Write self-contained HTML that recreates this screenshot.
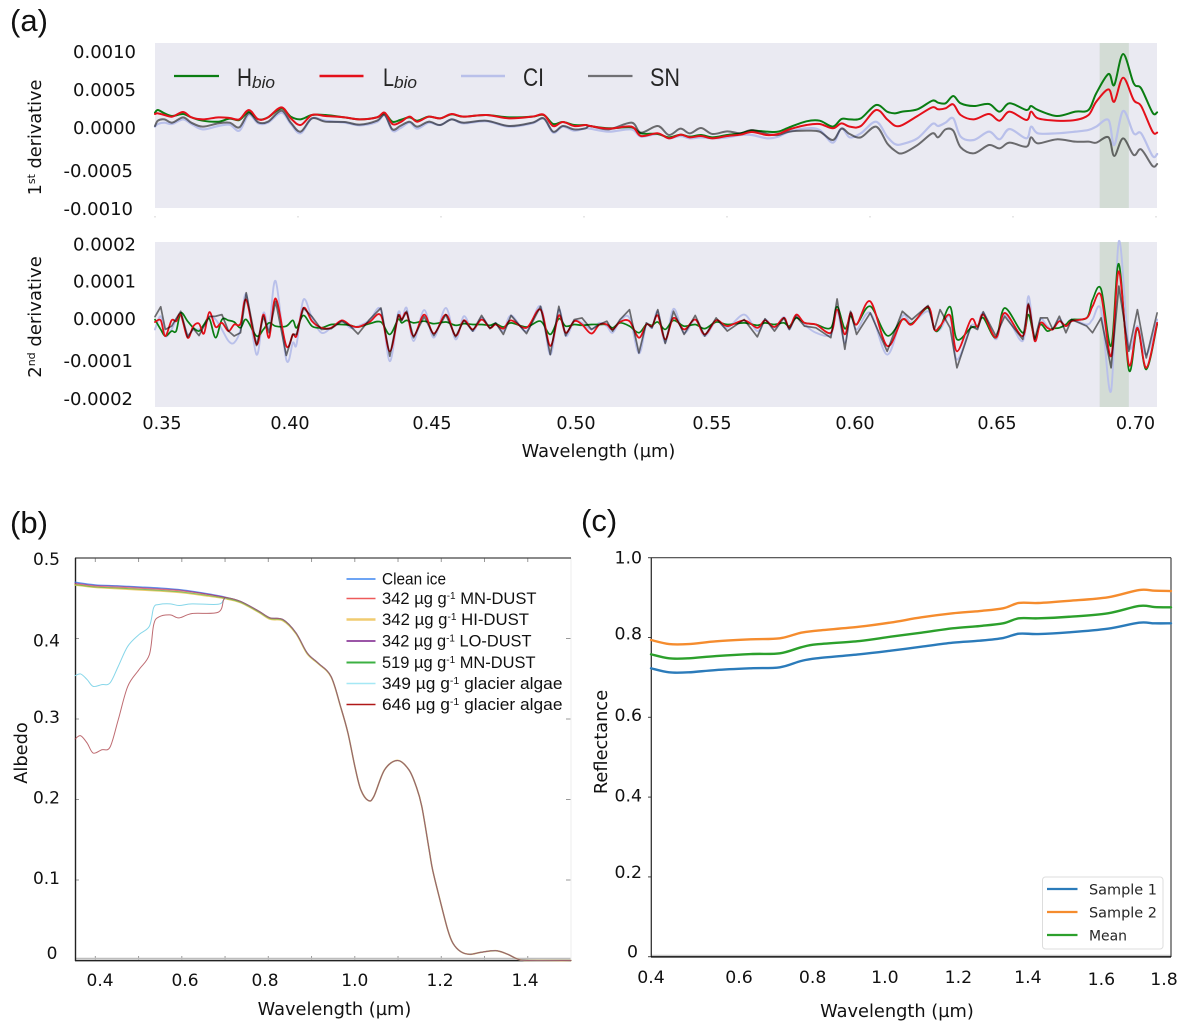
<!DOCTYPE html>
<html lang="en">
<head>
<meta charset="utf-8">
<title>Spectral derivative, albedo and reflectance panels</title>
<style>
html,body{margin:0;padding:0;background:#fff;}
svg{display:block;}
text{font-family:"DejaVu Sans","Liberation Sans",sans-serif;fill:#111;}
.lib{font-family:"Liberation Sans",sans-serif;}
.lbl{font-size:17.8px;}
.panel{font-family:"Liberation Sans",sans-serif;font-size:31px;}
.leg-a{font-family:"Liberation Sans",sans-serif;font-size:25px;fill:#262626;}
.leg-a-sub{font-family:"Liberation Sans",sans-serif;font-size:17px;font-style:italic;fill:#262626;}
.leg-b{font-family:"Liberation Sans",sans-serif;font-size:16.5px;}
.leg-c{font-size:14px;fill:#262626;}
</style>
</head>
<body>
<svg id="chart" xmlns="http://www.w3.org/2000/svg" width="1188" height="1031" viewBox="0 0 1188 1031">
  <rect width="1188" height="1031" fill="#ffffff"/>

  <text class="panel" x="10" y="31">(a)</text>
  <text class="panel" x="10" y="533">(b)</text>
  <text class="panel" x="581" y="531">(c)</text>

  <g id="panel-a1">
    <rect x="155" y="43" width="1002" height="165" fill="#eaeaf2"/>
  </g>
  <g id="panel-a2">
    <rect x="155" y="242" width="1002" height="165" fill="#eaeaf2"/>
  </g>
  <g id="panel-b"></g>
  <g id="panel-c"></g>

  <text class="lbl" transform="translate(41,137.5) rotate(-90)" text-anchor="middle" style="font-size:17.7px">1<tspan dy="-6" style="font-size:11px">st</tspan><tspan dy="6"> derivative</tspan></text>
  <text class="lbl" transform="translate(41,317) rotate(-90)" text-anchor="middle" style="font-size:18px">2<tspan dy="-6" style="font-size:11px">nd</tspan><tspan dy="6"> derivative</tspan></text>
  <text class="lbl" x="598.5" y="457" text-anchor="middle">Wavelength (µm)</text>
  <text class="lbl" x="334.5" y="1015" text-anchor="middle">Wavelength (µm)</text>
  <text class="lbl" transform="translate(27,753) rotate(-90)" text-anchor="middle">Albedo</text>
  <text class="lbl" x="897" y="1017" text-anchor="middle">Wavelength (µm)</text>
  <text class="lbl" transform="translate(607,742) rotate(-90)" text-anchor="middle">Reflectance</text>

  <g>
    <line x1="174" x2="219" y1="76" y2="76" stroke="#0a7d12" stroke-width="2.2"/>
    <text class="leg-a" x="237" y="86" textLength="15" lengthAdjust="spacingAndGlyphs">H</text>
    <text class="leg-a-sub" x="252" y="88" textLength="23" lengthAdjust="spacingAndGlyphs">bio</text>
    <line x1="319.5" x2="363.5" y1="76" y2="76" stroke="#e4101a" stroke-width="2.4"/>
    <text class="leg-a" x="383" y="86" textLength="11" lengthAdjust="spacingAndGlyphs">L</text>
    <text class="leg-a-sub" x="394" y="88" textLength="23" lengthAdjust="spacingAndGlyphs">bio</text>
    <line x1="461" x2="505" y1="76" y2="76" stroke="#b9c0ea" stroke-width="2.4"/>
    <text class="leg-a" x="523" y="86" textLength="21" lengthAdjust="spacingAndGlyphs">CI</text>
    <line x1="588" x2="632.5" y1="76" y2="76" stroke="#707074" stroke-width="2.2"/>
    <text class="leg-a" x="650" y="86" textLength="30" lengthAdjust="spacingAndGlyphs">SN</text>
  </g>

  <g>
    <line x1="346.5" x2="375.5" y1="579" y2="579" stroke="#3d85f0" stroke-width="1.6"/>
    <text class="leg-b" x="382" y="584.5" textLength="64" lengthAdjust="spacingAndGlyphs">Clean ice</text>
    <line x1="346.5" x2="375.5" y1="598.5" y2="598.5" stroke="#ee5a5a" stroke-width="1.6"/>
    <text class="leg-b" x="382" y="604" textLength="154.5" lengthAdjust="spacingAndGlyphs">342 µg g<tspan dy="-5" style="font-size:10px">-1</tspan><tspan dy="5"> MN-DUST</tspan></text>
    <line x1="346.5" x2="375.5" y1="619.5" y2="619.5" stroke="#f0cc70" stroke-width="2.6"/>
    <text class="leg-b" x="382" y="625" textLength="147" lengthAdjust="spacingAndGlyphs">342 µg g<tspan dy="-5" style="font-size:10px">-1</tspan><tspan dy="5"> HI-DUST</tspan></text>
    <line x1="346.5" x2="375.5" y1="641" y2="641" stroke="#7a1f8a" stroke-width="1.6"/>
    <text class="leg-b" x="382" y="646.5" textLength="149.5" lengthAdjust="spacingAndGlyphs">342 µg g<tspan dy="-5" style="font-size:10px">-1</tspan><tspan dy="5"> LO-DUST</tspan></text>
    <line x1="346.5" x2="375.5" y1="662.5" y2="662.5" stroke="#3cb043" stroke-width="2"/>
    <text class="leg-b" x="382" y="668" textLength="153.5" lengthAdjust="spacingAndGlyphs">519 µg g<tspan dy="-5" style="font-size:10px">-1</tspan><tspan dy="5"> MN-DUST</tspan></text>
    <line x1="346.5" x2="375.5" y1="683.5" y2="683.5" stroke="#a5e8f5" stroke-width="1.6"/>
    <text class="leg-b" x="382" y="689" textLength="180.5" lengthAdjust="spacingAndGlyphs">349 µg g<tspan dy="-5" style="font-size:10px">-1</tspan><tspan dy="5"> glacier algae</tspan></text>
    <line x1="346.5" x2="375.5" y1="704.5" y2="704.5" stroke="#b01818" stroke-width="1.6"/>
    <text class="leg-b" x="382" y="710" textLength="180.5" lengthAdjust="spacingAndGlyphs">646 µg g<tspan dy="-5" style="font-size:10px">-1</tspan><tspan dy="5"> glacier algae</tspan></text>
  </g>

  <g id="legend-c"></g>
</svg>

<script>
// Panel (a), first derivative, values in units of 1e-4
const wavelengthsFirstDerivative = [350,351,353.3,356,359.8,362.7,366.7,372.1,376.1,379.5,382.8,386.1,389.5,394.2,397.5,400.9,404.9,409.6,416.3,421.6,427.6,430.3,433,435.7,439,441.7,445.7,449.7,453.7,457.8,465.8,473.8,481.9,485.9,489.2,492.6,496.6,500.6,
502.1,508.7,516.6,519.9,525.8,529.7,533.7,537,540.9,544.9,550.1,554.7,558.7,564,567.9,571.8,577.8,582.4,587,590,592.9,596.8,602.1,606,608.7,611.3,616.6,621.8,623.8,626.4,629.1,631.7,636.3,641.6,645.3,648.8,654.7,656.3,658.7,665.3,671.8,676.4,679.1,683.4,685.4,688.5,692.2,694.8,698.8,700.4];
const firstHbio = [2.02,2.37,1.93,1.58,1.84,1.40,.96,.83,1.23,1.05,2.11,1.14,1.40,2.59,1.49,1.14,1.71,1.71,1.40,1.14,1.40,1.93,.83,1.05,1.40,.96,1.49,1.27,1.80,1.49,1.71,1.40,1.49,1.71,.53,.79,.39,.39,
.26,-.04,.09,-.70,-.79,-1.23,-.88,-1.14,-.92,-1.23,-.92,-.70,-.35,-.48,-.48,.09,.88,.96,.18,1.18,1.14,1.27,3.03,2.15,1.93,2.15,2.46,3.60,3.33,3.25,4.21,3.25,2.89,3.16,2.15,3.25,2.37,2.89,2.37,1.58,2.15,2.37,4.56,7.11,5.66,9.74,5.88,5.22,2.02,2.06];
const firstLbio = [1.84,1.93,1.71,1.49,2.11,1.40,1.14,1.40,1.32,1.14,2.37,1.14,1.40,2.72,1.27,.39,1.71,1.58,1.40,1.14,1.40,2.02,.53,.75,1.49,.83,1.49,1.27,1.84,1.49,1.71,1.27,1.49,1.75,.26,.79,.26,.39,
.26,-.09,.18,-1.05,-.70,-1.36,-.88,-1.23,-1.05,-1.36,-1.05,-.88,-.53,-.92,-.79,-.18,.39,.53,-.04,.61,.18,.26,2.37,1.14,.31,.39,1.58,2.72,2.46,2.59,3.11,1.71,1.14,1.84,.96,2.15,1.05,2.15,1.27,.96,1.05,1.71,3.46,5.09,3.46,6.62,3.68,2.89,-.48,-.61];
const firstCI = [.18,.53,.70,.53,1.14,.53,-.18,.26,.44,-.35,1.71,.61,.70,2.02,.53,-.70,1.27,.96,.70,.35,.79,1.71,-.35,-.04,.70,-.09,.70,.39,1.14,.61,.88,.18,.61,1.23,-.61,.18,-.35,-.04,
-.09,-.48,-.18,-1.14,-.79,-1.36,-1.05,-1.36,-1.23,-1.36,-1.23,-.92,-.92,-1.36,-1.14,-.48,-.04,-.26,-1.93,-.04,-1.23,-.70,.83,-1.14,-2.11,-2.11,-1.36,.53,.26,.70,1.27,-1.14,-1.58,-.48,-1.49,-.13,-1.36,.18,-.70,-.70,-.48,-.26,.18,1.05,-2.24,2.24,-.70,-.70,-3.68,-3.42];
const firstSN = [.26,.96,1.14,.70,1.40,.70,.18,.61,.70,.09,1.93,.75,.83,2.28,.70,-.48,1.27,.83,.79,.44,.96,1.71,-.18,.26,.83,.18,.83,.39,1.14,.70,.96,.26,.70,1.27,-.48,.26,-.18,-.04,
.26,-.18,.70,-.61,.26,-.92,-.09,-.70,0,-.79,-.44,-.70,-.26,-.79,-.92,-.48,-.35,-.48,-1.58,-.09,-.79,-1.23,.18,-2.02,-2.98,-3.33,-2.24,-.70,-1.23,-.18,-.35,-2.54,-3.33,-2.24,-2.68,-1.93,-2.46,-1.23,-2.02,-1.49,-1.80,-1.80,-1.93,-1.23,-3.68,-1.36,-3.55,-2.81,-5.00,-4.74];
const firstYTicks = [10,5,0,-5,-10];
const firstYLabels = ['0.0010','0.0005','0.0000','-0.0005','-0.0010'];

// Panel (a), second derivative, values in units of 1e-4
const wavelengthsSecondDerivative = [350,352,353.6,355.8,357.4,359,361.4,363.4,365.4,367.1,369,371.2,373.4,375.7,377.7,379.9,381.9,385.5,387.9,389.9,392.2,395.9,398.2,399.5,401.9,404.9,408.2,411.6,415.3,418.3,421,425,429,432.1,435,436.3,438,440.4,444.1,447.5,451.7,455.1,458,461.1,464.2,467.1,469.1,471.8,474.5,479.9,484.8,488.2,491.2,493.6,496.6,499.3,502.6,
505.4,508,510,512.6,515.9,519.2,521.8,523.8,525.8,528.4,531.3,535,538.9,542.2,546.2,550.1,556,560.6,563.3,566.6,569.9,571.8,574.2,577.1,581.1,586.3,588.5,591.2,593.2,595.3,600.1,606,611.3,614.6,620.3,622.5,624.5,628,630.4,635.3,637.6,639.6,644,647.1,653.4,655.4,657.6,659.6,662,663.9,666.2,668.5,670.5,675.8,677.8,680.8,684.3,687,690.5,693.5,696.6,700.4];
const secondHbio = [.12,-.12,-.28,-.16,-.16,.28,.08,-.08,-.16,0,.14,-.32,.12,.10,.06,-.08,.12,-.28,-.12,.04,-.04,-.04,.10,-.08,.22,-.04,-.08,0,0,-.02,-.06,.02,.06,-.24,.12,.04,.10,.04,.08,.02,.06,-.02,.02,0,0,-.02,.02,-.06,.04,-.06,.08,-.24,.14,-.04,0,-.02,0,
0,0,-.08,.04,-.04,-.20,0,-.02,.06,-.12,.10,-.04,0,-.10,.06,0,.04,-.02,.04,0,.04,-.04,.16,.04,0,-.08,.43,-.10,.20,0,.44,-.27,.12,.02,.40,-.12,-.08,.43,-.36,-.08,-.04,.16,-.32,.40,-.20,.24,-.32,0,-.16,-.10,-.08,0,.12,.16,.60,.86,-.52,1.47,-1.10,-.12,-1.09,0];
const secondLbio = [.06,.10,-.28,.10,.08,.24,-.32,-.04,.02,-.22,.30,-.06,.04,-.16,0,.02,.60,-.48,.24,-.32,.63,-.52,-.24,-.27,.40,.08,-.08,-.08,.10,-.02,-.06,.06,.22,-.65,.19,.12,.28,-.28,.24,-.22,.24,-.27,.10,-.12,.12,-.08,0,-.10,.10,-.08,.36,-.52,.22,-.20,.08,0,-.22,
0,0,-.12,.06,.08,-.32,0,-.04,.22,-.36,.16,-.12,.12,-.24,.10,-.04,.10,-.08,.10,-.06,.16,-.08,.24,.04,0,-.20,.36,-.24,.28,0,.56,-.52,.12,0,.43,-.12,-.04,.22,-.65,.12,-.06,.24,-.32,.28,-.28,.48,-.40,.04,-.08,-.12,.08,-.04,.08,.16,.44,.70,-.77,1.29,-.97,-.08,-1.05,.04];
const secondCI = [-.12,.20,-.28,-.12,.12,.20,-.24,-.12,-.12,-.04,.20,.12,-.12,-.40,-.44,-.12,.73,-.73,.28,-.08,1.05,-.85,-.44,-.48,.60,.16,-.20,-.08,.08,-.08,-.04,.10,.36,-.89,.28,.10,.40,-.40,.35,-.32,.40,-.36,.20,-.16,.16,-.08,.04,-.16,.22,-.16,.44,-.73,.36,-.28,.08,.04,-.12,
.04,-.04,-.20,.08,.16,-.70,0,-.08,.32,-.44,.38,-.20,.12,-.28,.08,-.08,.24,-.16,.12,-.08,.18,-.12,.22,0,-.20,-.24,.32,-.44,.28,-.12,.28,-.73,.20,.04,.32,-.12,-.12,.18,-.85,-.04,-.08,.28,-.36,.24,-.40,.69,-.40,.12,-.04,-.12,.12,-.04,.12,0,.12,.35,-1.61,2.02,-.52,-.04,-.73,.12];
const secondSN = [.19,.43,-.12,-.04,.14,.32,-.30,-.10,-.27,-.04,.19,.20,.24,-.16,-.28,-.20,.77,-.51,.20,-.20,.56,-.75,-.24,-.24,.40,.19,-.12,-.10,.08,-.04,-.23,.12,.40,-.77,.24,.10,.32,-.32,.19,-.27,.24,-.30,.10,-.16,.22,-.10,.04,-.24,.22,-.22,.44,-.73,.44,-.27,.12,.16,-.12,
0,.08,-.16,.12,.36,-.69,.04,-.08,.36,-.46,.32,-.24,.22,-.28,.16,-.16,.12,-.30,.14,-.16,.16,-.12,.20,-.04,-.08,-.32,.62,-.60,.32,-.24,.28,-.65,.32,.12,.46,-.12,.36,-.08,-1.05,-.04,-.12,.31,-.28,.20,-.36,.51,-.36,.16,.16,-.12,.20,-.20,.12,-.04,-.20,.16,-1.05,.93,-.65,.36,-.81,.28];
const secondYTicks = [2,1,0,-1,-2];
const secondYLabels = ['0.0002','0.0001','0.0000','-0.0001','-0.0002'];
const panelAXTicks = [350,400,450,500,550,600,650,700];
const panelAXLabels = ['0.35','0.40','0.45','0.50','0.55','0.60','0.65','0.70'];
const redEdgeBand = [680.3,690.5];

// Panel (b), albedo
const albedoWave = [.353,.4,.45,.5,.55,.6,.65,.7,.736,.778,.804,.834,.864,.89,.915,.945,.967,.984,1.001,1.014,1.031,1.044,1.069,1.099,1.125,1.142,1.155,1.172,1.18,1.197,1.215,1.227,1.245,1.266,1.292,1.326,1.352,1.378,1.4,1.5];
const albedoClean = [.470,.4667,.4655,.4642,.4628,.4605,.4565,.4515,.446,.434,.4256,.4235,.407,.382,.3696,.353,.3157,.283,.239,.212,.1988,.2037,.237,.2485,.237,.2162,.1913,.1374,.1126,.0752,.038,.0214,.011,.0077,.0102,.0122,.0081,.0015,0,0];
const albedoMnDust = [.468,.465,.4638,.4625,.461,.459,.4555,.451,.446,.434,.4256,.4235,.407,.382,.3696,.353,.3157,.283,.239,.212,.1988,.2037,.237,.2485,.237,.2162,.1913,.1374,.1126,.0752,.038,.0214,.011,.0077,.0102,.0122,.0081,.0015,0,0];
const albedoHiDust = [.4665,.4635,.462,.4605,.459,.457,.4535,.4495,.4445,.4325,.424,.422,.406,.381,.369,.3525,.3155,.283,.239,.212,.1988,.2037,.237,.2485,.237,.2162,.1913,.1374,.1126,.0752,.038,.0214,.011,.0077,.0102,.0122,.0081,.0015,0,0];
const albedoLoDust = [.469,.466,.465,.4635,.462,.46,.456,.4512,.446,.434,.4256,.4235,.407,.382,.3696,.353,.3157,.283,.239,.212,.1988,.2037,.237,.2485,.237,.2162,.1913,.1374,.1126,.0752,.038,.0214,.011,.0077,.0102,.0122,.0081,.0015,0,0];
const albedo519MnDust = [.467,.464,.4628,.4613,.4598,.4578,.4543,.45,.445,.433,.4248,.4228,.4065,.3815,.3692,.3528,.3156,.283,.239,.212,.1988,.2037,.237,.2485,.237,.2162,.1913,.1374,.1126,.0752,.038,.0214,.011,.0077,.0102,.0122,.0081,.0015,0,0];
const algaeWave = [.353,.366,.381,.395,.415,.434,.453,.475,.501,.525,.535,.547,.573,.594,.624,.684,.697,.706,.736,.778,.804,.834,.864,.89,.915,.945,.967,.984,1.001,1.014,1.031,1.044,1.069,1.099,1.125,1.142,1.155,1.172,1.18,1.197,1.215,1.227,1.245,1.266,1.292,1.326,1.352,1.378,1.4,1.5];
const albedoAlgae349 = [.3538,.356,.349,.3405,.3427,.3448,.3654,.3903,.4049,.4152,.4384,.4422,.443,.441,.443,.4425,.4484,.4505,.446,.434,.4256,.4235,.407,.382,.3696,.353,.3157,.283,.239,.212,.1988,.2037,.237,.2485,.237,.2162,.1913,.1374,.1126,.0752,.038,.0214,.011,.0077,.0102,.0122,.0081,.0015,0,0];
const albedoAlgae646 = [.2751,.2792,.2701,.2577,.2618,.2651,.2991,.3405,.3613,.38,.4173,.4268,.4293,.4256,.431,.4326,.4484,.4505,.446,.434,.4256,.4235,.407,.382,.3696,.353,.3157,.283,.239,.212,.1988,.2037,.237,.2485,.237,.2162,.1913,.1374,.1126,.0752,.038,.0214,.011,.0077,.0102,.0122,.0081,.0015,0,0];
const albedoYTicks = [.5,.4,.3,.2,.1,0];
const albedoYLabels = ['0.5','0.4','0.3','0.2','0.1','0'];
const albedoXTicks = [.4,.6,.8,1.0,1.2,1.4];
const albedoXLabels = ['0.4','0.6','0.8','1.0','1.2','1.4'];
const albedoMinorXTicks = [.4,.5,.6,.7,.8,.9,1.0,1.1,1.2,1.3,1.4];

// Panel (c), reflectance
const reflectWave = [.4,.449,.501,.575,.669,.747,.804,.846,.961,1.045,1.128,1.212,1.285,1.348,1.39,1.442,1.526,1.63,1.714,1.756,1.8];
const reflectSample1 = [.7228,.7127,.7127,.7185,.7228,.7253,.7411,.7478,.7578,.7669,.777,.787,.792,.7987,.8095,.8087,.813,.8221,.8371,.8355,.8355];
const reflectSample2 = [.7937,.7836,.7836,.7904,.7954,.798,.812,.817,.827,.8375,.8505,.8606,.8664,.8732,.8865,.8865,.892,.9008,.919,.9173,.9165];
const reflectMean = [.7578,.7478,.7478,.7536,.7586,.7604,.7754,.7829,.7912,.802,.812,.823,.8288,.8355,.848,.848,.852,.8606,.879,.8764,.8756];
const reflectYTicks = [1,.8,.6,.4,.2,0];
const reflectYLabels = ['1.0','0.8','0.6','0.4','0.2','0'];
const reflectXTicks = [.4,.6,.8,1.0,1.2,1.4,1.6,1.8];
const reflectXLabels = ['0.4','0.6','0.8','1.0','1.2','1.4','1.6','1.8'];
const reflectLegendLabels = ['Sample 1','Sample 2','Mean'];

const SVGNS = 'http://www.w3.org/2000/svg';
function linear(d0,d1,r0,r1){ return function(v){ return r0+(v-d0)*(r1-r0)/(d1-d0); }; }
function make(tag,attrs,parent,text){
  const n=document.createElementNS(SVGNS,tag);
  for(const k in attrs){ n.setAttribute(k,attrs[k]); }
  if(text!==undefined){ n.textContent=text; }
  parent.appendChild(n);
  return n;
}
function straightPath(xs,ys,sx,sy){
  return xs.map(function(x,i){ return (i?'L':'M')+sx(x).toFixed(2)+' '+sy(ys[i]).toFixed(2); }).join('');
}
function smoothPath(xs,ys,sx,sy){
  const p=xs.map(function(x,i){ return [sx(x),sy(ys[i])]; });
  let d='M'+p[0][0].toFixed(2)+' '+p[0][1].toFixed(2);
  for(let i=0;i<p.length-1;i++){
    const a=p[Math.max(i-1,0)],b=p[i],c=p[i+1],e=p[Math.min(i+2,p.length-1)];
    d+='C'+(b[0]+(c[0]-a[0])/6).toFixed(2)+' '+(b[1]+(c[1]-a[1])/6).toFixed(2)+' '+(c[0]-(e[0]-b[0])/6).toFixed(2)+' '+(c[1]-(e[1]-b[1])/6).toFixed(2)+' '+c[0].toFixed(2)+' '+c[1].toFixed(2);
  }
  return d;
}
function drawLine(parent,d,stroke,width,opacity,name){
  const el=make('path',{d:d,fill:'none',stroke:stroke,'stroke-width':width,'stroke-opacity':opacity,'stroke-linejoin':'round','stroke-linecap':'round'},parent);
  
  
  return el;
}
function drawLabel(parent,x,y,anchor,str,size,name){
  const el=make('text',{x:x,y:y,'text-anchor':anchor,style:'font-size:'+size+'px'},parent,str);
  
  
  return el;
}
function drawRule(parent,x1,y1,x2,y2,stroke,width,name){
  const el=make('line',{x1:x1,y1:y1,x2:x2,y2:y2,stroke:stroke,'stroke-width':width},parent);
  
  
  return el;
}

const gA1=document.getElementById('panel-a1');
const gA2=document.getElementById('panel-a2');
const gB=document.getElementById('panel-b');
const gC=document.getElementById('panel-c');
const gLegC=document.getElementById('legend-c');

// Scales
const xA=linear(350,700,155,1156);
const yA1=linear(0,10,128,52);
const yA2=linear(-2,2,407,242);
const xB=linear(.353,1.5,75,571);
const yB=linear(0,.5,960.5,558);
const xC=linear(.4,1.8,651,1171);
const yC=linear(0,1,956.7,557.7);

// Hand placement of tick labels as printed in the figure (label offset from its tick)
const aXNudge=[7,-8,-9,-8,-15,-15,-16,-20.5];
const a1YNudge=[0,0,0,5,5];
const a2YNudge=[2.5,-2,-5.5,-5,-8];
const bXNudge=[4.7,3.2,-3.3,0,-1.2,-2.7];
const bYNudge=[1,2,-2,-2,-2,-7.5];
const cXNudge=[0,13.7,13,11,10.2,5.5,4.7,-7];
const cYNudge=[0,-4,-2.5,-1.5,-5,-5];

// Panel (a) bands
[[gA1,43],[gA2,242]].forEach(function(pair){
  const band=make('rect',{x:xA(redEdgeBand[0]),y:pair[1],width:xA(redEdgeBand[1])-xA(redEdgeBand[0]),height:165,fill:'#bccdb8','fill-opacity':.5},pair[0]);
  
  
});

// Panel (a) series
drawLine(gA1,smoothPath(wavelengthsFirstDerivative,firstCI,xA,yA1),'#b9c0ea',2.2,1,'first-derivative-ci-line');
drawLine(gA1,smoothPath(wavelengthsFirstDerivative,firstHbio,xA,yA1),'#0a7d12',2,1,'first-derivative-hbio-line');
drawLine(gA1,smoothPath(wavelengthsFirstDerivative,firstSN,xA,yA1),'#000000',2,.55,'first-derivative-sn-line');
drawLine(gA1,smoothPath(wavelengthsFirstDerivative,firstLbio,xA,yA1),'#e4101a',2,1,'first-derivative-lbio-line');

drawLine(gA2,smoothPath(wavelengthsSecondDerivative,secondCI,xA,yA2),'#b9c0ea',1.9,1,'second-derivative-ci-line');
drawLine(gA2,smoothPath(wavelengthsSecondDerivative,secondHbio,xA,yA2),'#0a7d12',1.7,1,'second-derivative-hbio-line');
drawLine(gA2,smoothPath(wavelengthsSecondDerivative,secondLbio,xA,yA2),'#e4101a',1.8,1,'second-derivative-lbio-line');
drawLine(gA2,straightPath(wavelengthsSecondDerivative,secondSN,xA,yA2),'#000000',1.7,.55,'second-derivative-sn-line');

// Panel (a) axes labels
firstYTicks.forEach(function(v,i){
  drawLabel(gA1,v<0?133:136,yA1(v)+6+a1YNudge[i],'end',firstYLabels[i],18,'first-derivative-y-tick-label');
});
secondYTicks.forEach(function(v,i){
  drawLabel(gA2,v<0?133:136,yA2(v)+6+a2YNudge[i],'end',secondYLabels[i],18,'second-derivative-y-tick-label');
});
panelAXTicks.forEach(function(v,i){
  drawRule(gA1,xA(v),216,xA(v),217.5,'#cccccc',1,'first-derivative-x-tick');
  drawLabel(gA2,xA(v)+aXNudge[i],429,'middle',panelAXLabels[i],17.6,'panel-a-x-tick-label');
});

// Panel (b) axes
albedoMinorXTicks.forEach(function(v){
  drawRule(gB,xB(v),558,xB(v),562,'#999999',1,'albedo-top-tick');
  drawRule(gB,xB(v),956,xB(v),960,'#999999',1,'albedo-bottom-tick');
});
albedoYTicks.forEach(function(v,i){
  drawRule(gB,75,yB(v),79,yB(v),'#999999',1,'albedo-left-tick');
  drawRule(gB,566,yB(v),571,yB(v),'#999999',1,'albedo-right-tick');
  drawLabel(gB,v===0?57.5:60,yB(v)+6+bYNudge[i],'end',albedoYLabels[i],17,'albedo-y-tick-label');
});
albedoXTicks.forEach(function(v,i){
  drawLabel(gB,xB(v)+bXNudge[i],986,'middle',albedoXLabels[i],17,'albedo-x-tick-label');
});
drawRule(gB,75,958.7,571,958.7,'#bdbdbd',2,'albedo-zero-lines');
drawRule(gB,571,558,571,961,'#eeeeee',1,'albedo-right-spine');
drawRule(gB,75,558,571,558,'#444444',1.2,'albedo-top-spine');
drawRule(gB,75.5,558,75.5,961,'#222222',1.4,'albedo-left-spine');
drawRule(gB,75,960.7,571,960.7,'#222222',1.4,'albedo-bottom-spine');

// Panel (b) series
drawLine(gB,smoothPath(albedoWave,albedoClean,xB,yB),'#3d85f0',1.2,.8,'albedo-clean-ice-line');
drawLine(gB,smoothPath(albedoWave,albedoMnDust,xB,yB),'#ee5a5a',1.1,.8,'albedo-342-mn-dust-line');
drawLine(gB,smoothPath(albedoWave,albedoHiDust,xB,yB),'#e8c45a',1.6,.9,'albedo-342-hi-dust-line');
drawLine(gB,smoothPath(albedoWave,albedoLoDust,xB,yB),'#7a1f8a',1,.55,'albedo-342-lo-dust-line');
drawLine(gB,smoothPath(albedoWave,albedo519MnDust,xB,yB),'#3cb043',1,.6,'albedo-519-mn-dust-line');
drawLine(gB,smoothPath(algaeWave,albedoAlgae349,xB,yB),'#7fd4e8',1,.95,'albedo-349-algae-line');
drawLine(gB,smoothPath(algaeWave,albedoAlgae646,xB,yB),'#a83a42',1,.75,'albedo-646-algae-line');

// Panel (c) axes
reflectYTicks.forEach(function(v,i){
  drawRule(gC,648,yC(v),651,yC(v),'#444444',1,'reflectance-y-tick');
  drawLabel(gC,v===0?638:642,yC(v)+6+cYNudge[i],'end',reflectYLabels[i],17.3,'reflectance-y-tick-label');
});
reflectXTicks.forEach(function(v,i){
  drawLabel(gC,xC(v)+cXNudge[i],i>5?985:983,'middle',reflectXLabels[i],17.3,'reflectance-x-tick-label');
});
drawRule(gC,651,955.5,1171,955.5,'#c8c8c8',1.5,'reflectance-bottom-shadow');
drawRule(gC,651,557.7,1171,557.7,'#444444',1.1,'reflectance-top-spine');
drawRule(gC,1171,557.7,1171,957,'#333333',1.1,'reflectance-right-spine');
drawRule(gC,651.3,557.7,651.3,957,'#333333',1.3,'reflectance-left-spine');
drawRule(gC,651,956.9,1171,956.9,'#111111',1.5,'reflectance-bottom-spine');

// Panel (c) series
drawLine(gC,smoothPath(reflectWave,reflectSample1,xC,yC),'#2b7bba',2.4,1,'reflectance-sample-1-line');
drawLine(gC,smoothPath(reflectWave,reflectSample2,xC,yC),'#f58c2e',2.4,1,'reflectance-sample-2-line');
drawLine(gC,smoothPath(reflectWave,reflectMean,xC,yC),'#2ca02c',2.4,1,'reflectance-mean-line');

// Panel (c) legend
const legBox=make('rect',{x:1042.5,y:877,width:120.5,height:72,rx:3,fill:'#ffffff','fill-opacity':.9,stroke:'#dddddd','stroke-width':1},gLegC);


const legendColours=['#2b7bba','#f58c2e','#2ca02c'];
const legendWidths=[68,68,38];
reflectLegendLabels.forEach(function(label,i){
  const rowY=889+i*23;
  drawRule(gLegC,1047,rowY,1077.5,rowY,legendColours[i],2.2,'reflectance-legend-line');
  const t=make('text',{x:1089,y:rowY+5.5,'class':'leg-c',textLength:legendWidths[i],lengthAdjust:'spacingAndGlyphs'},gLegC,label);
  
  
});
</script>
</body>
</html>
